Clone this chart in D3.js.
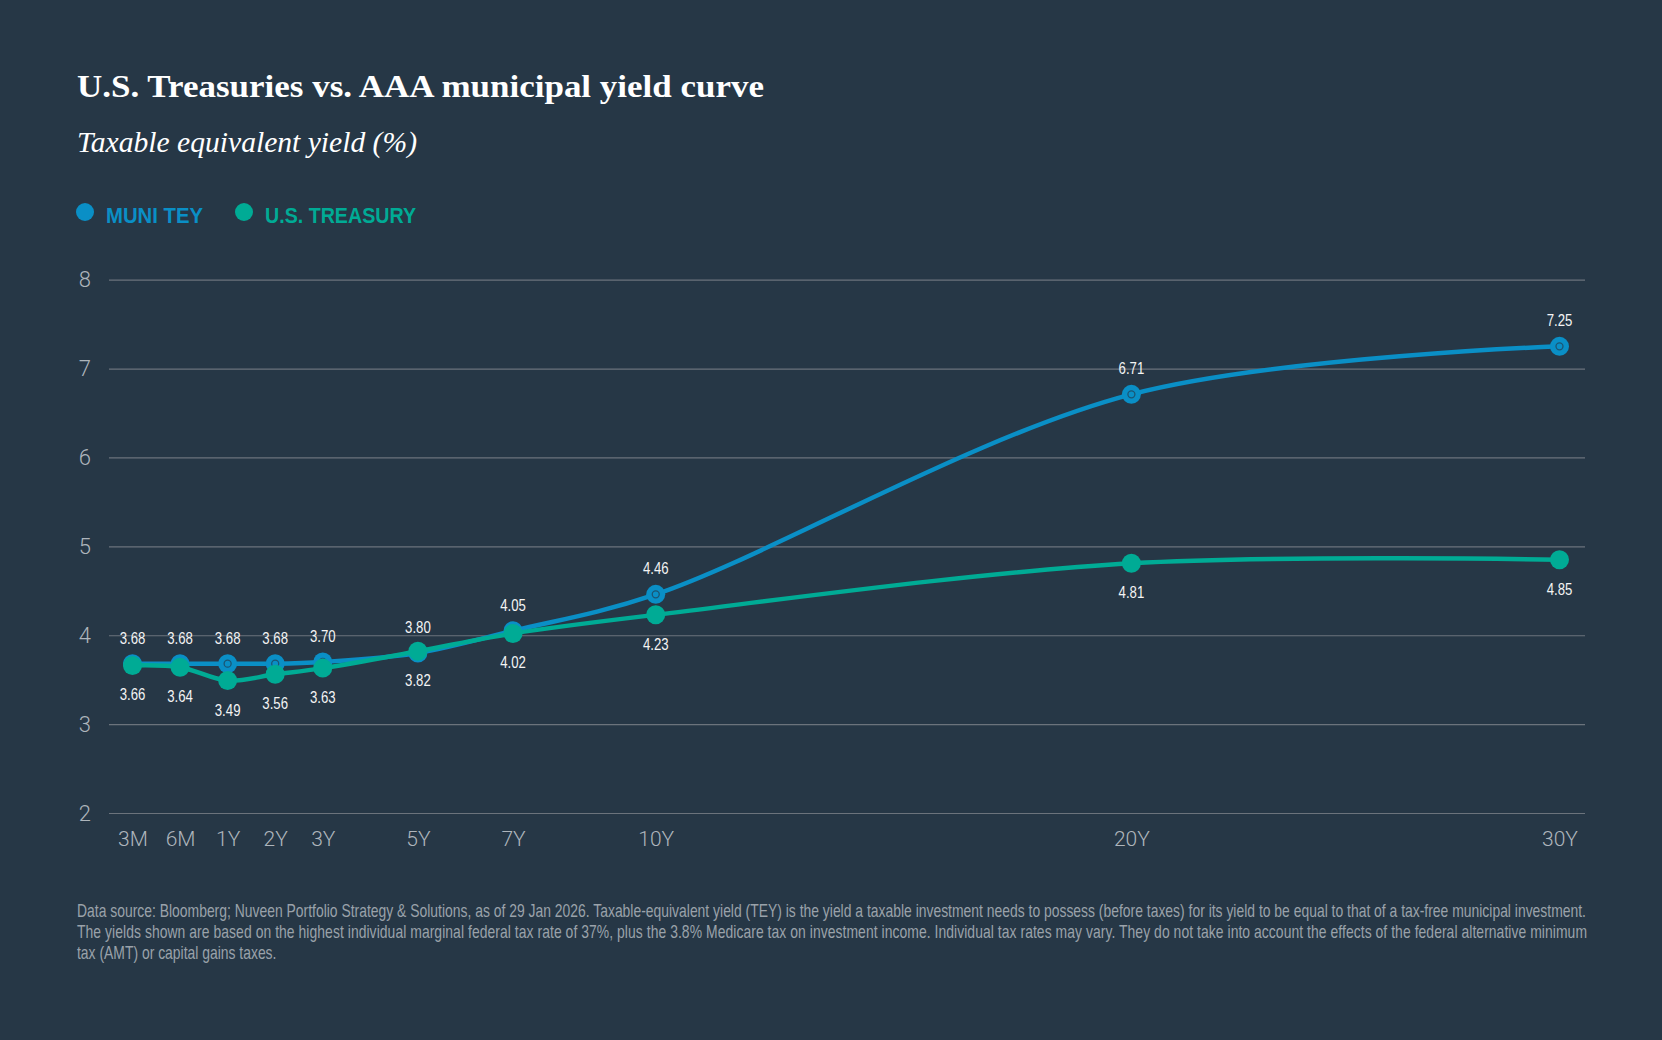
<!DOCTYPE html>
<html>
<head>
<meta charset="utf-8">
<script src="https://cdn.jsdelivr.net/npm/d3@7"></script>
<style>
  html, body { margin: 0; padding: 0; background: #263746; }
  svg { display: block; }
</style>
</head>
<body>
<svg id="chart"></svg>
<script>
const maturities = ['3M', '6M', '1Y', '2Y', '3Y', '5Y', '7Y', '10Y', '20Y', '30Y'];
// x position of each maturity on the chart's axis (in "years"; 3M/6M and 30Y sit on the index grid)
const maturityX = [-1, 0, 1, 2, 3, 5, 7, 10, 20, 29];
const muniTey = [3.68, 3.68, 3.68, 3.68, 3.7, 3.8, 4.05, 4.46, 6.71, 7.25];
const treasury = [3.66, 3.64, 3.49, 3.56, 3.63, 3.82, 4.02, 4.23, 4.81, 4.85];
const yTicks = [2, 3, 4, 5, 6, 7, 8];

const width = 1662;
const height = 1040;
const bg = '#263746';
const blue = '#0a8fc6';
const green = '#00ab95';
const sans = '"Liberation Sans", Arial, sans-serif';
const serif = '"Liberation Serif", serif';

const footnote = [
  'Data source: Bloomberg; Nuveen Portfolio Strategy & Solutions, as of 29 Jan 2026. Taxable-equivalent yield (TEY) is the yield a taxable investment needs to possess (before taxes) for its yield to be equal to that of a tax-free municipal investment.',
  'The yields shown are based on the highest individual marginal federal tax rate of 37%, plus the 3.8% Medicare tax on investment income. Individual tax rates may vary. They do not take into account the effects of the federal alternative minimum',
  'tax (AMT) or capital gains taxes.'
];

// squeeze a text horizontally (no condensed face is installed)
function condense(sel, factor) {
  sel.each(function() {
    const w = this.getComputedTextLength();
    d3.select(this)
      .attr('textLength', w * factor)
      .attr('lengthAdjust', 'spacingAndGlyphs');
  });
}

const chart = d3
  .select('#chart')
  .attr('width', width)
  .attr('height', height);

chart
  .append('rect')
  .attr('width', width)
  .attr('height', height)
  .attr('fill', bg);

/* Titles */
chart
  .append('text')
  .attr('x', 77)
  .attr('y', 97)
  .attr('fill', '#ffffff')
  .attr('textLength', 687)
  .attr('lengthAdjust', 'spacingAndGlyphs')
  .style('font-family', serif)
  .style('font-weight', 'bold')
  .style('font-size', '32px')
  .text('U.S. Treasuries vs. AAA municipal yield curve');

chart
  .append('text')
  .attr('x', 77)
  .attr('y', 152)
  .attr('fill', '#ffffff')
  .attr('textLength', 340)
  .attr('lengthAdjust', 'spacingAndGlyphs')
  .style('font-family', serif)
  .style('font-style', 'italic')
  .style('font-size', '29px')
  .text('Taxable equivalent yield (%)');

/* Legend */
const legend = [
  { name: 'MUNI TEY', color: blue, x: 85, w: 97 },
  { name: 'U.S. TREASURY', color: green, x: 244, w: 151 }
];
const leg = chart
  .selectAll('.legend')
  .data(legend)
  .enter()
  .append('g')
  .attr('class', 'legend')
  .attr('transform', d => `translate(${d.x}, 212)`);
leg
  .append('circle')
  .attr('r', 9)
  .attr('fill', d => d.color);
leg
  .append('text')
  .attr('x', 21)
  .attr('y', 10.5)
  .attr('fill', d => d.color)
  .attr('textLength', d => d.w)
  .attr('lengthAdjust', 'spacingAndGlyphs')
  .style('font-family', sans)
  .style('font-weight', 'bold')
  .style('font-size', '22px')
  .text(d => d.name);

/* Scales */
const left = 109;
const right = 1585;

const xScale = d3
  .scaleLinear()
  .domain([-1, 29])
  .range([132.5, 1559.5]);

const yScale = d3
  .scaleLinear()
  .domain([2, 8])
  .range([813, 279.7]);

/* Left Axis + grid */
const leftAxis = d3
  .axisLeft(yScale)
  .tickValues(yTicks)
  .tickSize(-(right - left))
  .tickPadding(18)
  .tickFormat(d3.format('d'));
const gy = chart
  .append('g')
  .attr('transform', `translate(${left}, 0)`)
  .call(leftAxis);
gy.select('.domain').remove();
gy.selectAll('.tick line')
  .attr('stroke', '#6b737c')
  .attr('stroke-width', 1.2);
gy.selectAll('.tick text')
  .attr('fill', '#aeb5bc')
  .style('font-family', 'Roboto, sans-serif')
  .style('font-weight', 300)
  .style('font-size', '22px');

/* Bottom Axis */
const botAxis = d3
  .axisBottom(xScale)
  .tickValues(maturityX)
  .tickSize(0)
  .tickPadding(18)
  .tickFormat((d, i) => maturities[i]);
const gx = chart
  .append('g')
  .attr('transform', `translate(0, ${yScale(2)})`)
  .call(botAxis);
gx.select('.domain').remove();
gx.selectAll('.tick text')
  .attr('fill', '#aeb5bc')
  .style('font-family', 'Roboto, sans-serif')
  .style('font-weight', 300)
  .style('font-size', '21px');

/* Series */
const series = [
  { name: 'muni', values: muniTey, color: blue, above: true },
  { name: 'treasury', values: treasury, color: green, above: false }
];

const line = d3
  .line()
  .x((d, i) => xScale(maturityX[i]))
  .y(d => yScale(d))
  .curve(d3.curveCatmullRom);

series.forEach(s => {
  const g = chart.append('g').attr('class', s.name);
  g.append('path')
    .attr('d', line(s.values))
    .attr('fill', 'none')
    .attr('stroke', s.color)
    .attr('stroke-width', 4.5)
    .attr('stroke-linejoin', 'round');

  g.selectAll('circle.pt')
    .data(s.values)
    .enter()
    .append('circle')
    .attr('class', 'pt')
    .attr('cx', (d, i) => xScale(maturityX[i]))
    .attr('cy', d => yScale(d))
    .attr('r', 9.5)
    .attr('fill', s.color);

  if (s.above) {
    g.selectAll('circle.ring')
      .data(s.values)
      .enter()
      .append('circle')
      .attr('class', 'ring')
      .attr('cx', (d, i) => xScale(maturityX[i]))
      .attr('cy', d => yScale(d))
      .attr('r', 3.5)
      .attr('fill', 'none')
      .attr('stroke', '#1b5573')
      .attr('stroke-width', 1.3);
  }
});

/* Value labels (drawn last so they sit on top) */
series.forEach(s => {
  chart
    .append('g')
    .selectAll('text')
    .data(s.values)
    .enter()
    .append('text')
    .attr('x', (d, i) => xScale(maturityX[i]))
    .attr('y', d => yScale(d) + (s.above ? -20 : 35))
    .attr('text-anchor', 'middle')
    .attr('fill', '#f4f4f4')
    .style('font-family', sans)
    .style('font-size', '16.5px')
    .text(d => d.toFixed(2))
    .call(condense, 0.8);
});

/* Footnote: one horizontal squeeze for all lines, sized so line 1 spans the chart */
const foot = chart
  .append('g')
  .attr('transform', 'translate(77, 0)');
const footText = foot
  .selectAll('text')
  .data(footnote)
  .enter()
  .append('text')
  .attr('x', 0)
  .attr('y', (d, i) => 917 + i * 21)
  .attr('fill', '#9aa2aa')
  .style('font-family', sans)
  .style('font-size', '18px')
  .text(d => d);
const footW = footText.node().getComputedTextLength();
const footScale = 1510 / footW;
foot.attr('transform', `translate(77, 0) scale(${footScale}, 1)`);
// second line is justified to the same width as the first
footText
  .filter((d, i) => i === 1)
  .attr('textLength', footW)
  .attr('lengthAdjust', 'spacing');
</script>
</body>
</html>
